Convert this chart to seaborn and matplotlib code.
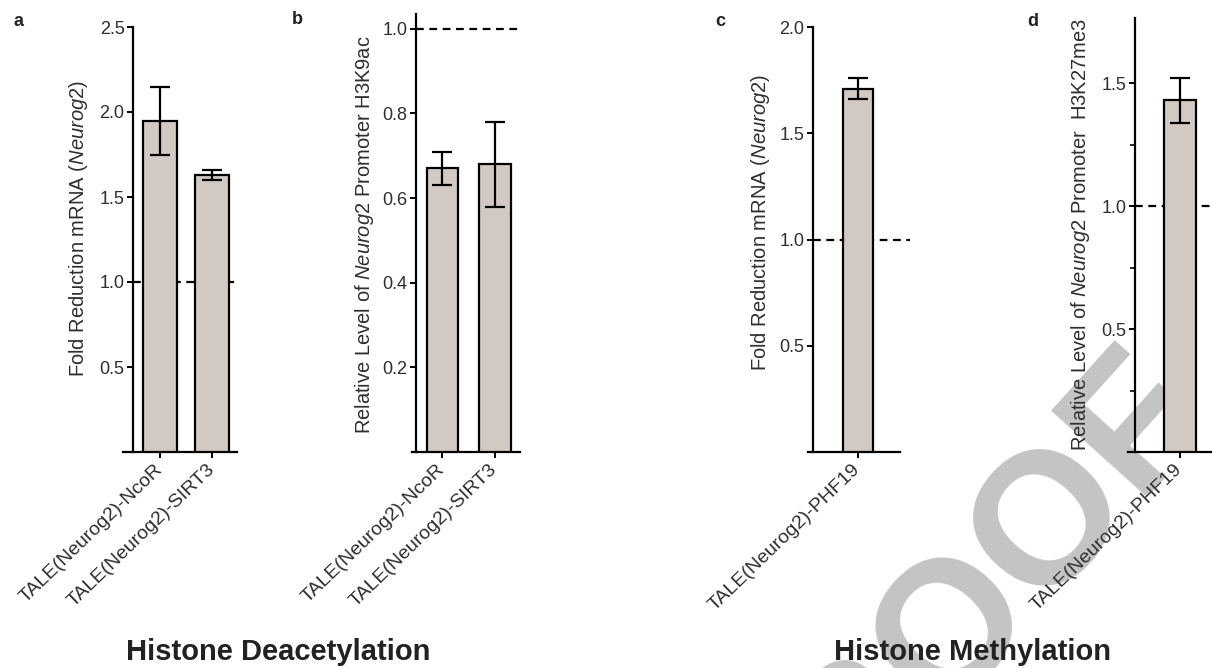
import numpy as np
import matplotlib
matplotlib.use("Agg")
import matplotlib.pyplot as plt
import seaborn as sns

# data
a_labels = ["TALE(Neurog2)-NcoR", "TALE(Neurog2)-SIRT3"]
a_values = [1.95, 1.63]
a_err = [0.20, 0.03]

b_labels = ["TALE(Neurog2)-NcoR", "TALE(Neurog2)-SIRT3"]
b_values = [0.67, 0.68]
b_err = [0.04, 0.10]

c_labels = ["TALE(Neurog2)-PHF19"]
c_values = [1.71]
c_err = [0.05]

d_labels = ["TALE(Neurog2)-PHF19"]
d_values = [1.43]
d_err = [0.09]

a_ylabel = r"Fold Reduction mRNA ($\it{Neurog2}$)"
b_ylabel = r"Relative Level of $\it{Neurog2}$ Promoter H3K9ac"
c_ylabel = r"Fold Reduction mRNA ($\it{Neurog2}$)"
d_ylabel = r"Relative Level of $\it{Neurog2}$ Promoter  H3K27me3"

group_titles = ["Histone Deacetylation", "Histone Methylation"]
baseline = 1.0

sns.set_style("ticks")
plt.rcParams["font.family"] = ["Liberation Sans", "DejaVu Sans"]
plt.rcParams["mathtext.fontset"] = "custom"
plt.rcParams["mathtext.rm"] = "Liberation Sans"
plt.rcParams["mathtext.it"] = "Liberation Sans:italic"

W, H = 1212, 668
fig = plt.figure(figsize=(W / 100, H / 100), dpi=100)
fig.patch.set_facecolor("white")

bar_color = "#d4c9c0"
text_color = "#2e2e2e"


def add_px_axes(left, top, right, bottom):
    return fig.add_axes([left / W, 1 - bottom / H, (right - left) / W, (bottom - top) / H])


def panel(rect, labels, values, errs, ylabel, ylim, yticks, xlim, spine_x, bar_w,
          dash_end, label_xy, letter, letter_xy, minor=None):
    ax = add_px_axes(*rect)
    ax.set_facecolor("none")
    sns.barplot(x=labels, y=values, ax=ax, color=bar_color, edgecolor="black",
                linewidth=1.6, width=bar_w, errorbar=None, zorder=3)
    ax.errorbar(x=np.arange(len(values)), y=values, yerr=errs, fmt="none",
                ecolor="black", elinewidth=1.6, capsize=7.5, capthick=1.6, zorder=4)
    ax.hlines(baseline, spine_x, dash_end, colors="black", linestyles=(0, (3.5, 2.5)),
              linewidth=1.6, zorder=1, clip_on=False)
    ax.set_xlim(*xlim)
    ax.set_ylim(*ylim)
    ax.set_yticks(yticks)
    ax.set_yticklabels([f"{t:.1f}" for t in yticks])
    if minor is not None:
        ax.set_yticks(minor, minor=True)
        ax.tick_params(axis="y", which="minor", length=3.5, width=1.4, direction="out")
    for s in ["top", "right"]:
        ax.spines[s].set_visible(False)
    ax.spines["left"].set_position(("data", spine_x))
    for s in ["left", "bottom"]:
        ax.spines[s].set_linewidth(1.6)
        ax.spines[s].set_color("black")
    ax.tick_params(axis="y", which="major", labelsize=13, length=4, width=1.4,
                   pad=2, colors="black", labelcolor=text_color)
    ax.tick_params(axis="x", labelsize=14, length=4, width=1.4, pad=7,
                   colors="black", labelcolor=text_color)
    plt.setp(ax.get_xticklabels(), rotation=44, ha="right", va="center",
             rotation_mode="anchor")
    ax.set_xlabel("")
    ax.set_ylabel(ylabel, fontsize=14.5, color=text_color, va="center")
    ax.yaxis.set_label_coords(label_xy[0] / W, 1 - label_xy[1] / H,
                              transform=fig.transFigure)
    fig.text(letter_xy[0] / W, 1 - letter_xy[1] / H, letter, fontsize=13,
             fontweight="bold", color="#222222", ha="left", va="top")
    return ax


panel((123, 27, 237, 452), a_labels, a_values, a_err, a_ylabel, (0, 2.5),
      [0.5, 1.0, 1.5, 2.0, 2.5], (-0.71, 1.48), -0.52, 0.67, 1.48,
      (79, 228), "a", (13, 13))
panel((412, 14, 520, 452), b_labels, b_values, b_err, b_ylabel, (0, 1.035),
      [0.2, 0.4, 0.6, 0.8, 1.0], (-0.58, 1.48), -0.505, 0.6, 1.48,
      (364, 235), "b", (292, 11))
panel((808, 27, 900, 452), c_labels, c_values, c_err, c_ylabel, (0, 2.0),
      [0.5, 1.0, 1.5, 2.0], (-0.96, 0.81), -0.865, 0.58, 1.0,
      (760, 222), "c", (715, 13))
panel((1128, 18, 1262, 452), d_labels, d_values, d_err, d_ylabel, (0, 1.765),
      [0.5, 1.0, 1.5], (-1.0, 1.58), -0.865, 0.62, 1.58,
      (1081, 235), "d", (1027, 13), minor=[0.25, 0.75, 1.25])

fig.text(278 / W, 1 - 652 / H, group_titles[0], fontsize=21, fontweight="bold",
         color="#222222", ha="center", va="center")
fig.text(972 / W, 1 - 652 / H, group_titles[1], fontsize=21, fontweight="bold",
         color="#222222", ha="center", va="center")

# watermark
fig.text(953 / W, 1 - 627 / H, "PROOF", rotation=48, fontsize=135,
         fontweight="bold", color="#c4c4c4", ha="center", va="center", zorder=-1)

fig.savefig("out.png", dpi=100)
